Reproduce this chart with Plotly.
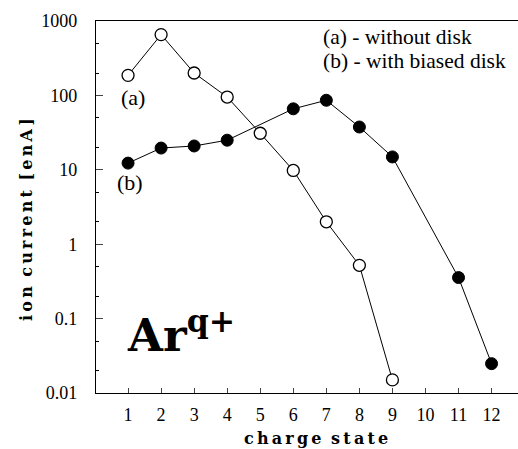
import plotly.graph_objects as go

charge_a = [1, 2, 3, 4, 5, 6, 7, 8, 9]
current_a = [186, 656, 200, 95, 31, 9.8, 2.0, 0.52, 0.015]
charge_b = [1, 2, 3, 4, 6, 7, 8, 9, 11, 12]
current_b = [12.3, 19.6, 20.9, 25, 66, 86, 37.6, 14.9, 0.356, 0.0248]
x_ticks = list(range(1, 13))
y_tickvals = [1000, 100, 10, 1, 0.1, 0.01]
y_ticktext = ["1000", "100", "10", "1", "0.1", "0.01"]

FONT = "Liberation Serif, Times New Roman, serif"
BFONT = "DejaVu Serif"
TS = "\u2009"

fig = go.Figure()
fig.add_trace(go.Scatter(
    x=charge_a, y=current_a, mode="lines+markers",
    line=dict(color="black", width=1),
    marker=dict(symbol="circle", size=12, color="white", line=dict(color="black", width=1.3)),
    showlegend=False))
fig.add_trace(go.Scatter(
    x=charge_b, y=current_b, mode="lines+markers",
    line=dict(color="black", width=1),
    marker=dict(symbol="circle", size=12, color="black", line=dict(color="black", width=1)),
    showlegend=False))

fig.update_layout(
    width=518, height=449,
    margin=dict(l=96, r=0, t=21, b=56),
    plot_bgcolor="white", paper_bgcolor="white",
    font=dict(family=FONT, color="black"),
    xaxis=dict(
        range=[0.03, 12.8], tickvals=x_ticks, ticks="inside", ticklen=5,
        showgrid=False, zeroline=False, showline=True, linecolor="black", linewidth=1.2,
        mirror=True, tickfont=dict(size=18, family=FONT), ticklabelstandoff=5),
    yaxis=dict(
        type="log", range=[-2, 3], tickvals=y_tickvals, ticktext=y_ticktext,
        ticks="inside", ticklen=7, showgrid=False, zeroline=False, showline=True,
        linecolor="black", linewidth=1.2, tickfont=dict(size=18, family=FONT),
        ticklabelstandoff=14,
        minor=dict(ticks="inside", ticklen=3, showgrid=False, tickcolor="black")),
)


def px(xp, yp):
    return (xp - 96) / (518 - 96), (393 - yp) / (393 - 21)


for txt, (xp, yp), size, anchor in [
    ("(a)", (133, 97), 22, "center"),
    ("(b)", (130, 183), 22, "center"),
    ("(a) - without disk", (321, 37), 21.5, "left"),
    ("(b) - with biased disk", (321, 61), 21.5, "left"),
]:
    xx, yy = px(xp, yp)
    fig.add_annotation(x=xx, y=yy, xref="paper", yref="paper", text=txt, xanchor=anchor,
                       yanchor="middle", showarrow=False, font=dict(size=size, family=FONT))

xx, yy = px(125, 332)
fig.add_annotation(x=xx, y=yy, xref="paper", yref="paper", text="<b>Ar<sup>q+</sup></b>",
                   xanchor="left", yanchor="middle", showarrow=False,
                   font=dict(size=45, family=BFONT))

xx, yy = px(316, 439)
fig.add_annotation(x=xx, y=yy, xref="paper", yref="paper",
                   text="<b>" + TS.join("charge") + TS * 3 + TS.join("state") + "</b>",
                   xanchor="center", yanchor="middle", showarrow=False,
                   font=dict(size=16, family=BFONT))
xx, yy = px(26, 220)
fig.add_annotation(x=xx, y=yy, xref="paper", yref="paper",
                   text="<b>" + TS.join("ion") + TS * 3 + TS.join("current") + TS * 3 + TS.join("[enA]") + "</b>",
                   textangle=-90, xanchor="center", yanchor="middle", showarrow=False,
                   font=dict(size=16, family=BFONT))

fig.write_html("out.html", config={"displayModeBar": False},
               post_script="document.body.style.margin='0';")
